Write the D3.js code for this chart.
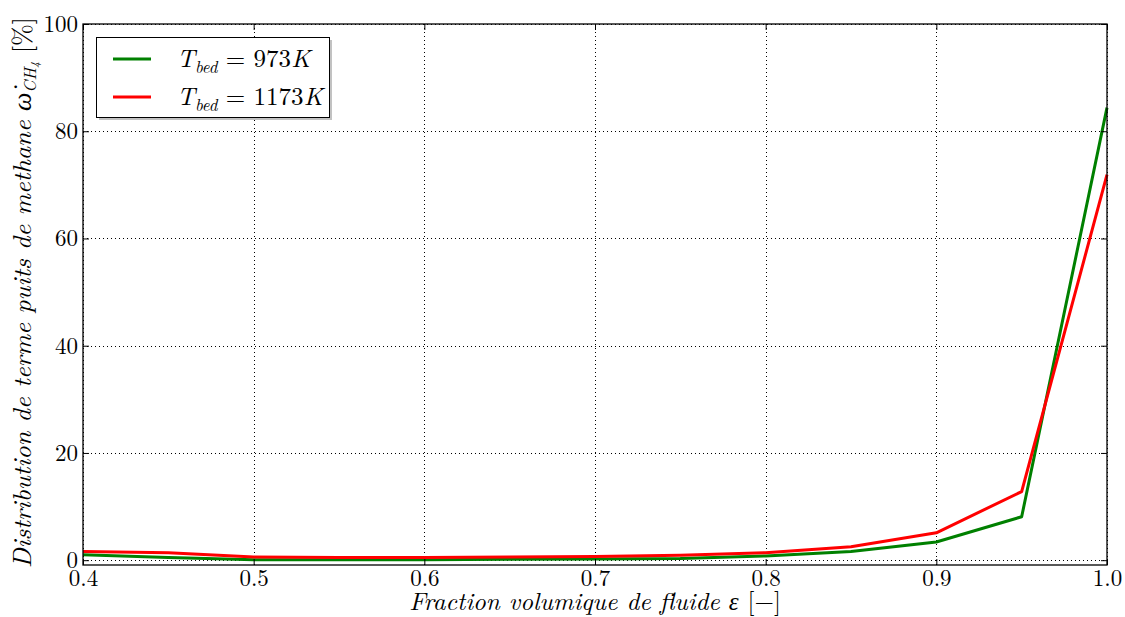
<!DOCTYPE html>
<html><head><meta charset="utf-8">
<script src="https://cdn.jsdelivr.net/npm/d3@7"></script>
<style>body{margin:0;background:#fff}svg{display:block}</style>
</head><body>
<svg id="c" width="1125" height="617"></svg>
<script>
const xValues = [0.4,0.45,0.5,0.55,0.6,0.65,0.7,0.75,0.8,0.85,0.9,0.95,1.0];
const green973 = [1.0,0.5,0.1,0.1,0.1,0.15,0.2,0.3,0.8,1.6,3.4,8.1,84.4];
const red1173 = [1.6,1.4,0.6,0.5,0.5,0.6,0.7,0.9,1.4,2.5,5.1,12.8,71.9];
const xTicks = [0.4,0.5,0.6,0.7,0.8,0.9,1.0];
const yTicks = [0,20,40,60,80,100];
const seriesNames = ["973K","1173K"];
const colors = ["#008000","#ff0000"];

const FONT = '"Latin Modern Roman","CMU Serif","Liberation Serif",serif';
const svg = d3.select("#c");
const L=83, R=1107, T=24, B=565;
const x = d3.scaleLinear().domain([0.4,1.0]).range([L,R]);
const y = d3.scaleLinear().domain([-0.9,100]).range([B,T]);

// grid
const g = svg.append("g");
g.selectAll(".gx").data(xTicks).join("line")
  .attr("x1",d=>Math.round(x(d))+0.5).attr("x2",d=>Math.round(x(d))+0.5).attr("y1",T).attr("y2",B)
  .attr("stroke","#000").attr("stroke-width",1).attr("stroke-dasharray","1,3");
g.selectAll(".gy").data(yTicks).join("line")
  .attr("y1",d=>Math.round(y(d))+0.5).attr("y2",d=>Math.round(y(d))+0.5).attr("x1",L).attr("x2",R)
  .attr("stroke","#000").attr("stroke-width",1).attr("stroke-dasharray","1,3");

// lines
const line = d3.line().x((d,i)=>x(xValues[i])).y(d=>y(d));
[green973, red1173].forEach((s,i)=>{
  svg.append("path").datum(s).attr("d",line).attr("fill","none")
    .attr("stroke",colors[i]).attr("stroke-width",3).attr("stroke-linejoin","round");
});

// axes (ticks inside)
const axB = d3.axisBottom(x).tickValues(xTicks).tickFormat(d3.format(".1f")).tickSizeInner(-6).tickSizeOuter(0).tickPadding(5);
const axT = d3.axisTop(x).tickValues(xTicks).tickFormat("").tickSizeInner(-6).tickSizeOuter(0);
const axLf = d3.axisLeft(y).tickValues(yTicks).tickFormat(d3.format("d")).tickSizeInner(-6).tickSizeOuter(0).tickPadding(5);
const axRt = d3.axisRight(y).tickValues(yTicks).tickFormat("").tickSizeInner(-6).tickSizeOuter(0);
function style(sel){
  sel.attr("font-family",null);
  sel.selectAll("text").style("font-family",FONT).attr("font-size",23).attr("fill","#000");
  sel.select(".domain").remove();
  sel.selectAll("line").attr("stroke","#000");
}
svg.append("g").attr("transform",`translate(0,${B})`).call(axB).call(style);
svg.append("g").attr("transform",`translate(0,${T})`).call(axT).call(style);
svg.append("g").attr("transform",`translate(${L},0)`).call(axLf).call(style);
svg.append("g").attr("transform",`translate(${R},0)`).call(axRt).call(style);
svg.append("rect").attr("x",L).attr("y",T).attr("width",R-L).attr("height",B-T)
  .attr("fill","none").attr("stroke","#000").attr("stroke-width",1.3);

// axis labels
svg.append("text").attr("x",(L+R)/2).attr("y",610).attr("text-anchor","middle")
  .style("font-family",FONT).attr("font-size",25).attr("font-style","italic")
  .html('Fraction volumique de fluide ε <tspan font-style="normal">[−]</tspan>');
const yl = svg.append("text").attr("transform",`translate(31,${(T+B)/2 - 2}) rotate(-90)`).attr("text-anchor","middle")
  .style("font-family",FONT).attr("font-size",26).attr("font-style","italic");
yl.append("tspan").text("Distribution de terme puits de methane ω̇");
yl.append("tspan").attr("font-size",17).attr("dy",5).text("CH");
yl.append("tspan").attr("font-size",12).attr("dy",3).text("4");
yl.append("tspan").attr("font-style","normal").attr("dy",-8).text(" [%]");

// legend
const lg = svg.append("g");
lg.append("rect").attr("x",99).attr("y",40).attr("width",233).attr("height",80).attr("fill","#999").attr("opacity",0.6);
lg.append("rect").attr("x",96.5).attr("y",37.5).attr("width",233).attr("height",80).attr("fill","#fff").attr("stroke","#000").attr("stroke-width",1);
seriesNames.forEach((n,i)=>{
  const yy = 59 + i*38;
  lg.append("line").attr("x1",113).attr("x2",151).attr("y1",yy).attr("y2",yy).attr("stroke",colors[i]).attr("stroke-width",3);
  const t = lg.append("text").attr("x",177).attr("y",yy+8).style("font-family",FONT).attr("font-size",25).attr("font-style","italic");
  t.append("tspan").text("T");
  t.append("tspan").attr("font-size",17).attr("dy",6).text("bed");
  t.append("tspan").attr("dy",-6).attr("font-style","normal").text(" = ");
  t.append("tspan").attr("font-style","normal").text(n.replace("K",""));
  t.append("tspan").text("K");
});
</script>
</body></html>
